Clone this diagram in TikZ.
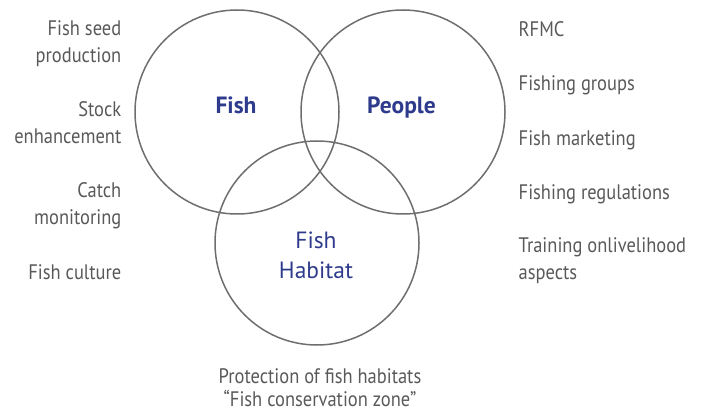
\documentclass[tikz,border=0pt]{standalone}
\usepackage{fontspec}
\setmainfont{PT Sans}[FakeStretch=0.88]
\newfontfamily\setnamefont{PT Sans}
\begin{document}
\begin{tikzpicture}[x=1pt, y=-1pt,
  ring/.style={draw=ringgray, line width=1.5pt, circle, minimum size=204pt, inner sep=0pt},
  setname/.style={text=setblue, font=\setnamefont\fontsize{23.5}{30}\selectfont, align=center, inner sep=0pt},
  boldname/.style={setname, font=\setnamefont\bfseries\fontsize{23.5}{30}\selectfont, anchor=base},
  itemleft/.style={text=textgray, font=\fontsize{21}{27}\selectfont, align=right, anchor=north east, inner sep=0pt},
  itemright/.style={text=textgray, font=\fontsize{21}{27}\selectfont, align=left, anchor=north west, inner sep=0pt},
  itembottom/.style={text=textgray, font=\fontsize{21}{23}\selectfont, align=center, anchor=north, inner sep=0pt}]
\definecolor{ringgray}{HTML}{6E6E6E}
\definecolor{setblue}{HTML}{2E3B8C}
\definecolor{textgray}{HTML}{595959}
\useasboundingbox (0,0) rectangle (703,411);

% the three sets
\node[ring] (fishc) at (237,112) {};
\node[ring] (peoplec) at (403,112) {};
\node[ring] (habitatc) at (317,243) {};

\node[boldname] (fish) at (236,114) {Fish};
\node[boldname] (people) at (401.5,114) {People};
\node[setname, anchor=north] (habitat) at (316,231.5) {Fish\\Habitat};

% fish activities
\node[itemleft] (seed) at (121.5,20.5) {Fish seed\\production};
\node[itemleft] (stock) at (121.5,101) {Stock\\enhancement};
\node[itemleft] (catch) at (121.5,182.5) {Catch\\monitoring};
\node[itemleft] (culture) at (121.5,264) {Fish culture};

% people activities
\node[itemright] (rfmc) at (518.5,21) {RFMC};
\node[itemright] (groups) at (518.5,75.5) {Fishing groups};
\node[itemright] (marketing) at (518.5,130) {Fish marketing};
\node[itemright] (regulations) at (518.5,184) {Fishing regulations};
\node[itemright] (training) at (518.5,237.5) {Training onlivelihood\\aspects};

% habitat activities
\node[itembottom] (protection) at (320,368) {Protection of fish habitats\\“Fish conservation zone”};
\end{tikzpicture}
\end{document}
